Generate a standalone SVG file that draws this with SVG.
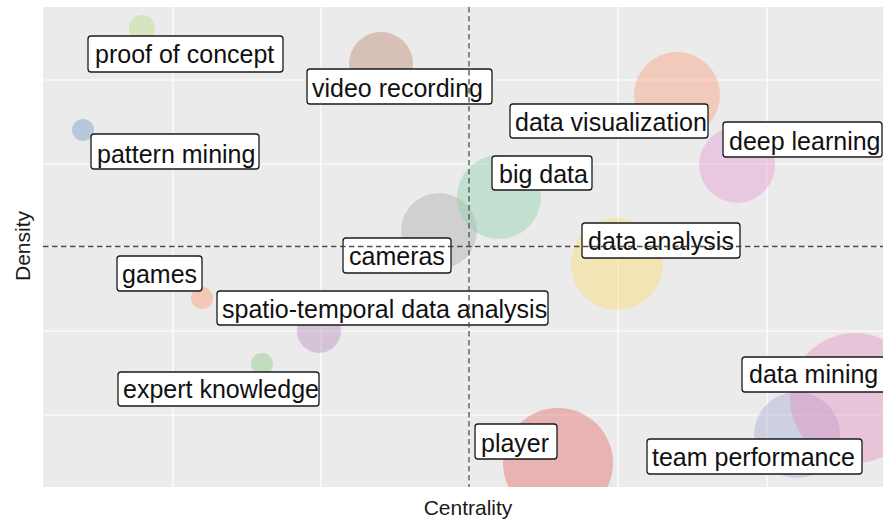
<svg xmlns="http://www.w3.org/2000/svg" width="883" height="522" viewBox="0 0 883 522">
  <style>
    .grid { stroke: #ffffff; stroke-width: 1.2; }
    .ref { stroke: #3a3a3a; stroke-width: 1.3; stroke-dasharray: 5.5 3.5; fill: none; opacity: 0.9; }
    .bubble { fill-opacity: 0.4; stroke: none; }
    .box { fill: #ffffff; stroke: #1a1a1a; stroke-width: 1.3; }
    .lbl { font-family: "Liberation Sans", Arial, sans-serif; font-size: 25px; fill: #111111; }
    .axis { font-family: "Liberation Sans", Arial, sans-serif; font-size: 21px; fill: #1a1a1a; }
  </style>
  <defs>
    <clipPath id="panel-clip">
      <rect x="43" y="7" width="840" height="480"/>
    </clipPath>
  </defs>
  <rect width="883" height="522" fill="#ffffff"/>

  <!-- panel background and grid -->
  <g id="panel">
    <rect x="43" y="7" width="840" height="480" fill="#ebebeb"/>
    <g class="grid">
      <line x1="173" y1="7" x2="173" y2="487"/>
      <line x1="321" y1="7" x2="321" y2="487"/>
      <line x1="469" y1="7" x2="469" y2="487"/>
      <line x1="618" y1="7" x2="618" y2="487"/>
      <line x1="767" y1="7" x2="767" y2="487"/>
      <line x1="43" y1="80" x2="883" y2="80"/>
      <line x1="43" y1="164" x2="883" y2="164"/>
      <line x1="43" y1="247" x2="883" y2="247"/>
      <line x1="43" y1="331" x2="883" y2="331"/>
      <line x1="43" y1="415" x2="883" y2="415"/>
    </g>
  </g>

  <!-- theme bubbles -->
  <g id="bubbles" clip-path="url(#panel-clip)">
    <circle id="b-proof" class="bubble" cx="142" cy="28" r="13" fill="#b4dc78"/>
    <circle id="b-pattern" class="bubble" cx="83" cy="130" r="11" fill="#6b94c6"/>
    <circle id="b-video" class="bubble" cx="381" cy="64" r="32" fill="#b98064"/>
    <circle id="b-dataviz" class="bubble" cx="677" cy="95" r="43" fill="#fa9873"/>
    <circle id="b-deep" class="bubble" cx="737" cy="165" r="38" fill="#e393cf"/>
    <circle id="b-cameras" class="bubble" cx="439" cy="231" r="38" fill="#a7a7a7"/>
    <circle id="b-bigdata" class="bubble" cx="499" cy="197" r="42" fill="#87cda7"/>
    <circle id="b-analysis" class="bubble" cx="617" cy="264" r="46" fill="#fcd964"/>
    <circle id="b-games" class="bubble" cx="202" cy="298" r="11" fill="#ff9361"/>
    <circle id="b-spatio" class="bubble" cx="319" cy="331" r="22" fill="#b687c0"/>
    <circle id="b-expert" class="bubble" cx="262" cy="364" r="11" fill="#84c57a"/>
    <circle id="b-player" class="bubble" cx="558" cy="463" r="55" fill="#e35f5f"/>
    <circle id="b-team" class="bubble" cx="797" cy="435" r="43" fill="#a0a7cf"/>
    <circle id="b-mining" class="bubble" cx="855" cy="398" r="65" fill="#e389bb"/>
  </g>

  <!-- labels -->
  <g id="n-proof"><rect class="box" x="88" y="36" width="195" height="36" rx="3"/><text class="lbl" x="95" y="63">proof of concept</text></g>
  <g id="n-video"><rect class="box" x="307" y="69" width="185" height="35" rx="3"/><text class="lbl" x="312" y="97">video recording</text></g>
  <g id="n-pattern"><rect class="box" x="91" y="134" width="168" height="35" rx="3"/><text class="lbl" x="97" y="163">pattern mining</text></g>
  <g id="n-dataviz"><rect class="box" x="510" y="104" width="198" height="34" rx="3"/><text class="lbl" x="515" y="131">data visualization</text></g>
  <g id="n-deep"><rect class="box" x="723" y="122" width="159" height="35" rx="3"/><text class="lbl" x="729" y="150">deep learning</text></g>
  <g id="n-bigdata"><rect class="box" x="492" y="156" width="100" height="34" rx="3"/><text class="lbl" x="499" y="183">big data</text></g>
  <g id="n-cameras"><rect class="box" x="343" y="238" width="108" height="35" rx="3"/><text class="lbl" x="349" y="265">cameras</text></g>
  <g id="n-analysis"><rect class="box" x="582" y="223" width="158" height="35" rx="3"/><text class="lbl" x="588" y="250">data analysis</text></g>
  <g id="n-games"><rect class="box" x="117" y="256" width="85" height="35" rx="3"/><text class="lbl" x="122" y="283">games</text></g>
  <g id="n-spatio"><rect class="box" x="217" y="291" width="331" height="34" rx="3"/><text class="lbl" x="222" y="318">spatio-temporal data analysis</text></g>
  <g id="n-expert"><rect class="box" x="118" y="372" width="201" height="34" rx="3"/><text class="lbl" x="123" y="398">expert knowledge</text></g>
  <g id="n-player"><rect class="box" x="475" y="424" width="82" height="35" rx="3"/><text class="lbl" x="481" y="452">player</text></g>
  <g id="n-team"><rect class="box" x="647" y="439" width="215" height="35" rx="3"/><text class="lbl" x="652" y="466">team performance</text></g>
  <g id="n-mining"><rect class="box" x="742" y="357" width="145" height="35" rx="3"/><text class="lbl" x="749" y="383">data mining</text></g>

  <!-- median reference lines -->
  <g id="connectors">
    <line class="ref" x1="469" y1="7" x2="469" y2="487"/>
    <line class="ref" x1="43" y1="246.5" x2="883" y2="246.5"/>
  </g>

  <!-- axis titles -->
  <g id="axes">
    <text class="axis" x="468" y="515" text-anchor="middle">Centrality</text>
    <text class="axis" transform="translate(30 246) rotate(-90)" text-anchor="middle">Density</text>
  </g>
</svg>
